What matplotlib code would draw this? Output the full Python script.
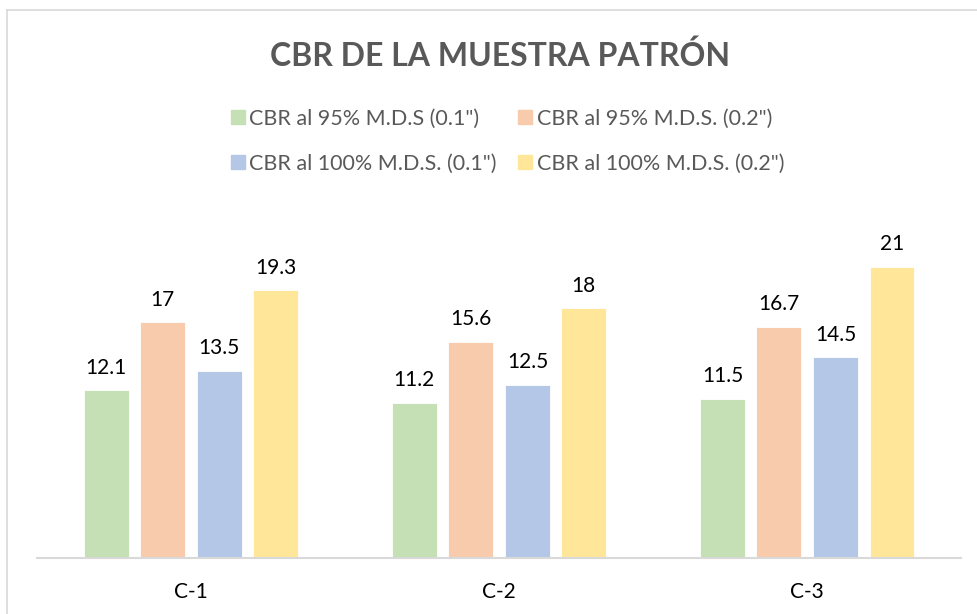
import matplotlib
matplotlib.use("Agg")
import matplotlib.pyplot as plt
import numpy as np
from matplotlib.lines import Line2D

plt.rcParams["font.family"] = ["Lato", "DejaVu Sans"]

categories = ["C-1", "C-2", "C-3"]
series_names = ['CBR al 95% M.D.S (0.1")', 'CBR al 95% M.D.S. (0.2")',
                'CBR al 100% M.D.S. (0.1")', 'CBR al 100% M.D.S. (0.2")']
cbr_95_01 = [12.1, 11.2, 11.5]
cbr_95_02 = [17, 15.6, 16.7]
cbr_100_01 = [13.5, 12.5, 14.5]
cbr_100_02 = [19.3, 18, 21]
colors = ["#C5E0B4", "#F8CBAD", "#B4C7E7", "#FFE699"]

fig = plt.figure(figsize=(9.78, 6.14), dpi=100)
ax = fig.add_axes([0.0378, 0.0912, 0.945, 0.5644])

x = np.arange(len(categories))
width = 0.145
offsets = [-0.275, -0.092, 0.092, 0.275]
for vals, off, col in zip([cbr_95_01, cbr_95_02, cbr_100_01, cbr_100_02], offsets, colors):
    bars = ax.bar(x + off, vals, width, color=col, edgecolor="white", linewidth=0.6)
    ax.bar_label(bars, labels=[f"{v:g}" for v in vals], padding=9, fontsize=15, color="#000000")

ax.set_xlim(-0.5, 2.5)
ax.set_ylim(0, 25)
ax.set_xticks(x)
ax.set_xticklabels(categories, fontsize=15, color="#000000")
ax.tick_params(axis="x", length=0, pad=17)
ax.set_yticks([])
for s in ["top", "right", "left"]:
    ax.spines[s].set_visible(False)
ax.spines["bottom"].set_color("#D9D9D9")
ax.spines["bottom"].set_linewidth(1.5)

fig.text(0.511, 0.91, "CBR DE LA MUESTRA PATRÓN", ha="center", va="center",
         fontsize=23, fontweight="bold", color="#595959")

# matplotlib fills legend columns first; reorder so rows read like the original
order = [0, 2, 1, 3]
handles = [Line2D([], [], marker="s", linestyle="none", markersize=10,
                  markerfacecolor=colors[i], markeredgecolor=colors[i]) for i in order]
fig.legend(handles, [series_names[i] for i in order], ncol=2, loc="center",
           bbox_to_anchor=(0.518, 0.770), frameon=False, fontsize=15.5,
           labelcolor="#595959", handletextpad=0.15, columnspacing=0.9,
           labelspacing=1.15, handlelength=0.8)

# chart area border (partly cropped)
fig.add_artist(Line2D([0.0072, 1.0], [0.9837, 0.9837], color="#D9D9D9", lw=1.2,
                      transform=fig.transFigure))
fig.add_artist(Line2D([0.0072, 0.0072], [0.0, 0.9837], color="#D9D9D9", lw=1.2,
                      transform=fig.transFigure))

fig.savefig("out.png", dpi=100)
